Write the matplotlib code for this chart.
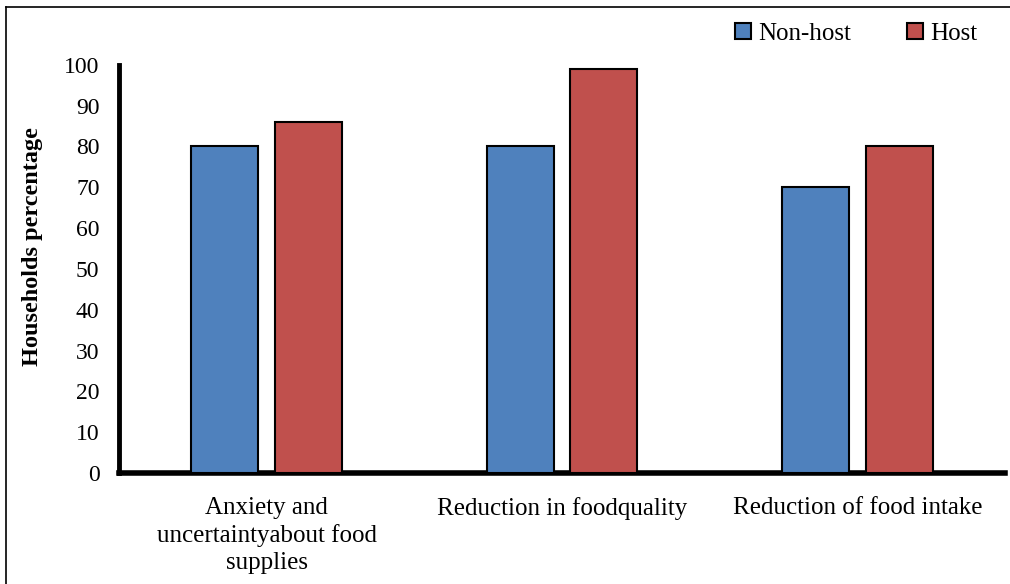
import matplotlib.pyplot as plt
import numpy as np
from matplotlib.lines import Line2D

categories = ["Anxiety and\nuncertaintyabout food\nsupplies",
              "Reduction in foodquality",
              "Reduction of food intake"]
non_host = [80, 80, 70]
host = [86, 99, 80]
yticks = [0, 10, 20, 30, 40, 50, 60, 70, 80, 90, 100]

plt.rcParams["font.family"] = ["Liberation Serif", "DejaVu Serif"]

fig = plt.figure(figsize=(10.1, 5.84), dpi=100)
ax = fig.add_axes([0.1178, 0.190, 0.8772, 0.699])

x = np.arange(len(categories)) + 0.5
w = 0.227
off = 0.142
ax.bar(x - off, non_host, w, color="#4f81bd", edgecolor="black", linewidth=1.5,
       label="Non-host", zorder=3)
ax.bar(x + off, host, w, color="#c0504d", edgecolor="black", linewidth=1.5,
       label="Host", zorder=3)

ax.set_xlim(0, 3)
ax.set_ylim(0, 100)
ax.set_yticks(yticks)
ax.set_yticklabels([str(t) for t in yticks], fontsize=17)
ax.set_xticks(x)
ax.set_xticklabels(categories, fontsize=18, linespacing=1.3)
ax.tick_params(axis="y", length=0, pad=14)
ax.tick_params(axis="x", length=0, pad=17)
ax.set_ylabel("Households percentage", fontsize=17.5, fontweight="bold")
ax.yaxis.set_label_coords(-0.086, 0.556)

for s in ["top", "right"]:
    ax.spines[s].set_visible(False)
ax.spines["left"].set_linewidth(3.5)
ax.spines["bottom"].set_linewidth(4)

fig.legend(loc="upper right", bbox_to_anchor=(0.99, 1.0), ncol=2, frameon=False,
           fontsize=18, handlelength=0.65, handleheight=0.65, handletextpad=0.3,
           columnspacing=2.2)

# thin frame around the figure
fig.add_artist(Line2D([0.006, 0.006], [0, 0.988], color="black", linewidth=1.2,
                      transform=fig.transFigure))
fig.add_artist(Line2D([0.006, 1.0], [0.988, 0.988], color="black", linewidth=1.2,
                      transform=fig.transFigure))

fig.savefig("out.png", dpi=100)
